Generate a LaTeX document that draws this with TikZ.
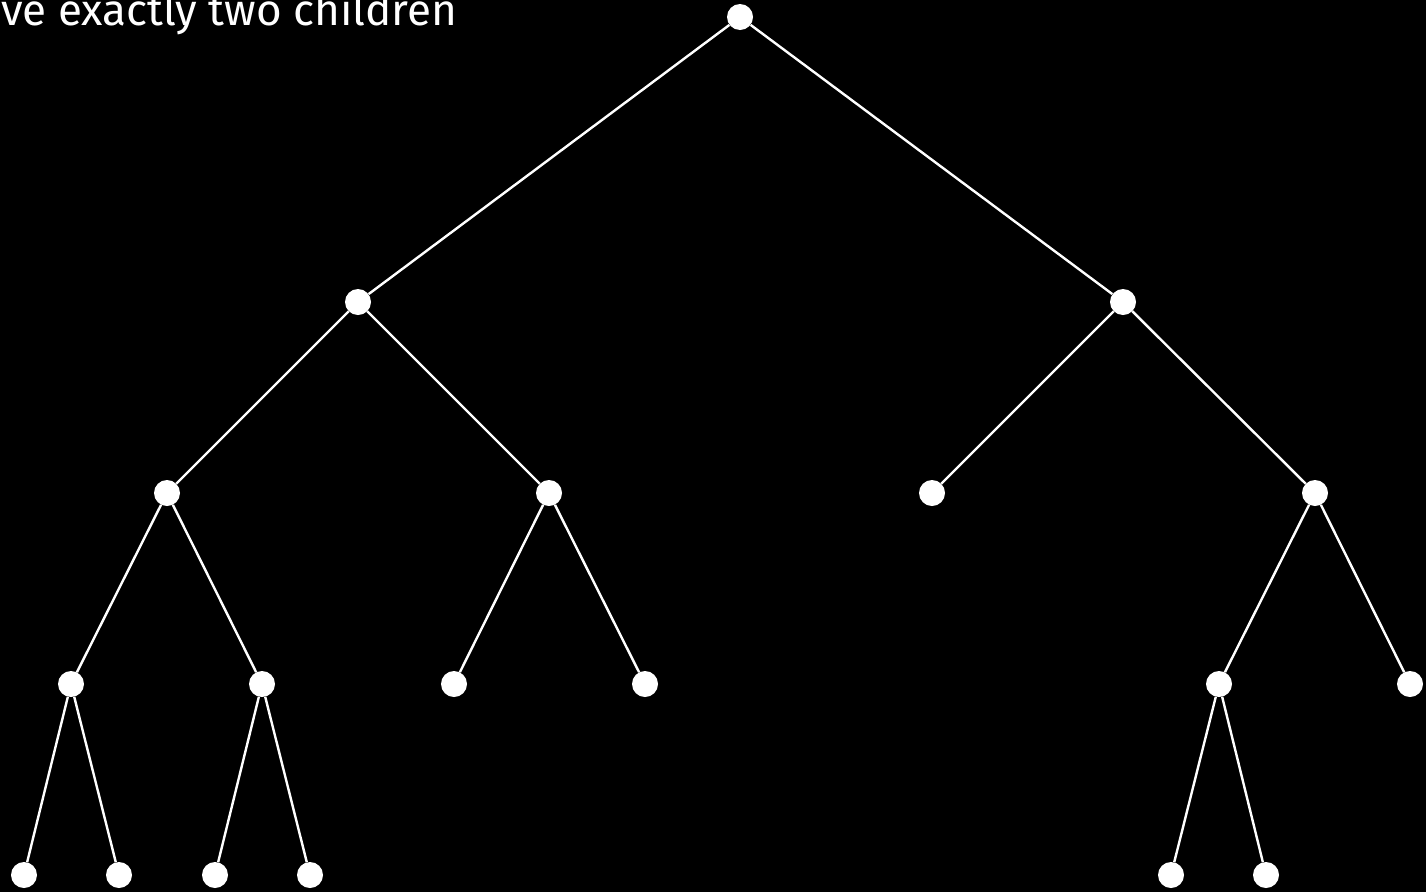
\documentclass[tikz,border=0pt]{standalone}
\usepackage{fontspec}
\setmainfont{Fira Sans}
\usepackage{tikz}

\tikzset{
    treenode/.style={circle, fill=white, inner sep=0pt, minimum size=26pt},
    treeedge/.style={white, line width=2.4pt}
}

\begin{document}
\begin{tikzpicture}[x=1pt, y=-1pt]

    % ==========================================
    % CANVAS
    % ==========================================
    \fill[black] (0,0) rectangle (1426,892);
    \useasboundingbox (0,0) rectangle (1426,892);

    % caption, cut off at the left and top edges
    \begin{scope}
        \clip (0,0) rectangle (1426,892);
        \node[anchor=base west, white, inner sep=0pt, font=\fontsize{44}{50}\selectfont] (caption) at (1,25) {ve exactly two children};
    \end{scope}

    % ==========================================
    % NODES
    % ==========================================

    % root
    \node[treenode] (r) at (740,17) {};

    % level 1
    \node[treenode] (l) at (358,302) {};
    \node[treenode] (rr) at (1123,302) {};

    % level 2
    \node[treenode] (ll) at (167,493) {};
    \node[treenode] (lr) at (549,493) {};
    \node[treenode] (rl) at (932,493) {};
    \node[treenode] (rrr) at (1315,493) {};

    % level 3
    \node[treenode] (lll) at (71,684) {};
    \node[treenode] (llr) at (262,684) {};
    \node[treenode] (lrl) at (454,684) {};
    \node[treenode] (lrr) at (645,684) {};
    \node[treenode] (rrl) at (1219,684) {};
    \node[treenode] (rrrr) at (1410,684) {};

    % level 4
    \node[treenode] (llll) at (24,875) {};
    \node[treenode] (lllr) at (119,875) {};
    \node[treenode] (llrl) at (215,875) {};
    \node[treenode] (llrr) at (310,875) {};
    \node[treenode] (rrll) at (1171,875) {};
    \node[treenode] (rrlr) at (1266,875) {};

    % ==========================================
    % EDGES
    % ==========================================
    \draw[treeedge] (r) -- (l);
    \draw[treeedge] (r) -- (rr);
    \draw[treeedge] (l) -- (ll);
    \draw[treeedge] (l) -- (lr);
    \draw[treeedge] (rr) -- (rl);
    \draw[treeedge] (rr) -- (rrr);
    \draw[treeedge] (ll) -- (lll);
    \draw[treeedge] (ll) -- (llr);
    \draw[treeedge] (lr) -- (lrl);
    \draw[treeedge] (lr) -- (lrr);
    \draw[treeedge] (rrr) -- (rrl);
    \draw[treeedge] (rrr) -- (rrrr);
    \draw[treeedge] (lll) -- (llll);
    \draw[treeedge] (lll) -- (lllr);
    \draw[treeedge] (llr) -- (llrl);
    \draw[treeedge] (llr) -- (llrr);
    \draw[treeedge] (rrl) -- (rrll);
    \draw[treeedge] (rrl) -- (rrlr);

\end{tikzpicture}
\end{document}
